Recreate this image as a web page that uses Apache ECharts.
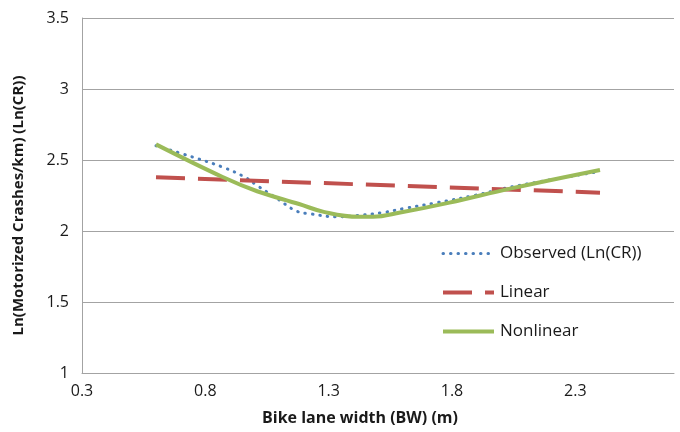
<!DOCTYPE html>
<html>
<head>
<meta charset="utf-8">
<script src="https://cdn.jsdelivr.net/npm/echarts@6/dist/echarts.min.js"></script>
<style>html,body{margin:0;padding:0;background:#fff}#c{width:680px;height:432px}</style>
</head>
<body>
<div id="c"></div>
<script>
// Observed (Ln(CR))
const obsX = [0.60, 0.75, 0.87, 0.96, 1.01, 1.09, 1.17, 1.23, 1.33, 1.42, 1.52, 1.61, 1.74, 1.89, 2.04, 2.40];
const obsY = [2.60, 2.52, 2.45, 2.38, 2.32, 2.23, 2.14, 2.12, 2.10, 2.11, 2.13, 2.16, 2.20, 2.25, 2.31, 2.42];
// Linear model
const linX = [0.60, 2.40];
const linY = [2.378, 2.27];
// Nonlinear model
const nlX = [0.60, 0.87, 1.01, 1.18, 1.28, 1.42, 1.48, 1.59, 1.79, 2.04, 2.40];
const nlY = [2.61, 2.38, 2.28, 2.19, 2.135, 2.10, 2.10, 2.13, 2.20, 2.30, 2.43];
const seriesNames = ['Observed (Ln(CR))', 'Linear', 'Nonlinear'];
const xTitle = 'Bike lane width (BW) (m)';
const yTitle = 'Ln(Motorized Crashes/km) (Ln(CR))';

const pairs = (xs, ys) => xs.map((x, i) => [x, ys[i]]);
const FONT = '"Open Sans", sans-serif';
const GRID = '#a3a3a3';
const COLORS = ['#4a7ebb', '#c0504d', '#9bbb59'];
const DASHES = [[0.5, 7], [29, 13], 'solid'];
const WIDTHS = [3, 4, 4];

const chart = echarts.init(document.getElementById('c'), null, {renderer: 'canvas'});
chart.setOption({
  animation: false,
  backgroundColor: '#fff',
  textStyle: {fontFamily: FONT},
  grid: {left: 82, top: 18, right: 6, bottom: 59, containLabel: false},
  legend: {
    orient: 'vertical', left: 441, top: 245, padding: 0,
    itemWidth: 51, itemHeight: 16, itemGap: 22,
    itemStyle: {opacity: 0},
    textStyle: {fontFamily: FONT, fontSize: 17, color: '#1a1a1a', lineHeight: 16, padding: [0, 0, 0, 1]},
    data: seriesNames.map((n, i) => ({
      name: n,
      lineStyle: {width: WIDTHS[i], color: COLORS[i], type: DASHES[i], cap: i === 0 ? 'round' : 'butt'}
    }))
  },
  xAxis: {
    type: 'value', min: 0.3, max: 2.7, interval: 0.5,
    name: xTitle, nameLocation: 'middle', nameGap: 37,
    nameTextStyle: {fontFamily: FONT, fontSize: 16, fontWeight: 'bold', color: '#1a1a1a', padding: [0, 36, 0, 0]},
    axisLine: {show: true, lineStyle: {color: GRID, width: 1}},
    axisTick: {show: false},
    splitLine: {show: false},
    axisLabel: {fontFamily: FONT, fontSize: 16, color: '#1a1a1a', margin: 10, showMaxLabel: false,
      formatter: v => v.toFixed(1)}
  },
  yAxis: {
    type: 'value', min: 1, max: 3.5, interval: 0.5,
    name: yTitle, nameLocation: 'middle', nameGap: 56, nameRotate: 90,
    nameTextStyle: {fontFamily: FONT, fontSize: 15, fontWeight: 'bold', color: '#1a1a1a', padding: [0, 20, 0, 0]},
    axisLine: {show: true, lineStyle: {color: GRID, width: 1}},
    axisTick: {show: false},
    splitLine: {show: true, lineStyle: {color: GRID, width: 1}},
    axisLabel: {fontFamily: FONT, fontSize: 16, color: '#1a1a1a', margin: 13}
  },
  series: [
    {
      name: seriesNames[0], type: 'line', data: pairs(obsX, obsY),
      smooth: 0.4, symbol: 'none', color: COLORS[0],
      lineStyle: {color: COLORS[0], width: WIDTHS[0], type: DASHES[0], cap: 'round'}
    },
    {
      name: seriesNames[1], type: 'line', data: pairs(linX, linY),
      smooth: false, symbol: 'none', color: COLORS[1],
      lineStyle: {color: COLORS[1], width: WIDTHS[1], type: DASHES[1], cap: 'butt'}
    },
    {
      name: seriesNames[2], type: 'line', data: pairs(nlX, nlY),
      smooth: 0.4, symbol: 'none', color: COLORS[2],
      lineStyle: {color: COLORS[2], width: WIDTHS[2]}
    }
  ]
});
</script>
</body>
</html>
